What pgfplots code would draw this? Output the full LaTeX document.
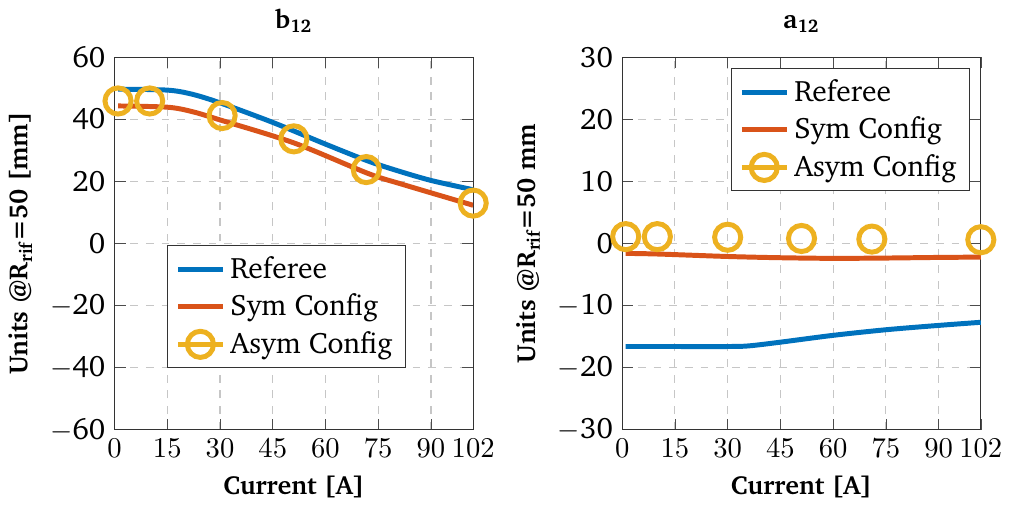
\documentclass[border=0pt]{standalone}
\usepackage[T1]{fontenc}
\usepackage{charter}
\usepackage{pgfplots}
\pgfplotsset{compat=1.18}
\definecolor{mblue}{RGB}{0,114,189}
\definecolor{morange}{RGB}{217,83,25}
\definecolor{myellow}{RGB}{237,177,32}

\pgfplotsset{
  panel/.style={
    width=137.2pt, height=142.5pt, scale only axis,
    xmin=0, xmax=102,
    xtick={0,15,30,45,60,75,90,102},
    grid=major,
    grid style={dashed, gray!45, line width=0.4pt},
    axis line style={black!80},
    tick style={black!70},
    tick label style={font=\fontsize{11.3}{13}\selectfont},
    xlabel={\textbf{Current [A]}},
    legend style={draw=black!80, cells={anchor=west}, font=\fontsize{11.3}{14}\selectfont,
      row sep=0.5pt},
    legend image post style={line width=1.9pt},
  },
  ser/.style={#1, line width=1.9pt, smooth},
  ymark/.style={myellow, line width=1.9pt, mark=o, mark size=5pt, only marks},
}

\begin{document}
\begin{tikzpicture}
\begin{axis}[panel, name=left,
  title={\textbf{b\textsubscript{12}}},
  ymin=-60, ymax=60, ytick={-60,-40,...,60},
  yticklabels={$-$60,$-$40,$-$20,0,20,40,60},
  ylabel={\textbf{Units @R\textsubscript{rif}=50 [mm]}},
  legend style={at={(0.147,0.165)}, anchor=south west},
]
\addplot[ser=mblue] coordinates {(1,49.7) (15,49.4) (22,48.1) (30,45.3) (45,39.0) (60,32.0) (72,26.6) (80,23.6) (90,20.3) (102,17.3)};
\addplot[ser=morange] coordinates {(1,44.3) (15,43.9) (22,42.5) (30,39.8) (51,32.4) (72,22.6) (82,19.0) (102,12.3)};
\addlegendimage{myellow, line width=1.9pt, mark=o, mark size=5pt}
\addplot[ymark, forget plot] coordinates {(1,45.9) (10,45.9) (30.6,41.2) (51,33.7) (71.6,23.8) (102,13.0)};
\legend{Referee, Sym Config, Asym Config}
\end{axis}

\begin{axis}[panel, at={(194.2pt,0)},
  title={\textbf{a\textsubscript{12}}},
  ymin=-30, ymax=30, ytick={-30,-20,...,30},
  yticklabels={$-$30,$-$20,$-$10,0,10,20,30},
  ylabel={\textbf{Units @R\textsubscript{rif}=50 mm}},
  legend pos=north east,
]
\addplot[ser=mblue] coordinates {(1,-16.6) (15,-16.6) (30,-16.6) (36,-16.5) (45,-15.9) (60,-14.8) (75,-13.9) (90,-13.2) (102,-12.7)};
\addplot[ser=morange] coordinates {(1,-1.6) (10,-1.7) (30,-2.1) (45,-2.3) (60,-2.4) (75,-2.35) (90,-2.25) (102,-2.2)};
\addlegendimage{myellow, line width=1.9pt, mark=o, mark size=5pt}
\addplot[ymark, forget plot] coordinates {(1,1.1) (10,1.1) (30,1.0) (51,0.8) (71,0.7) (102,0.6)};
\legend{Referee, Sym Config, Asym Config}
\end{axis}
\end{tikzpicture}
\end{document}
